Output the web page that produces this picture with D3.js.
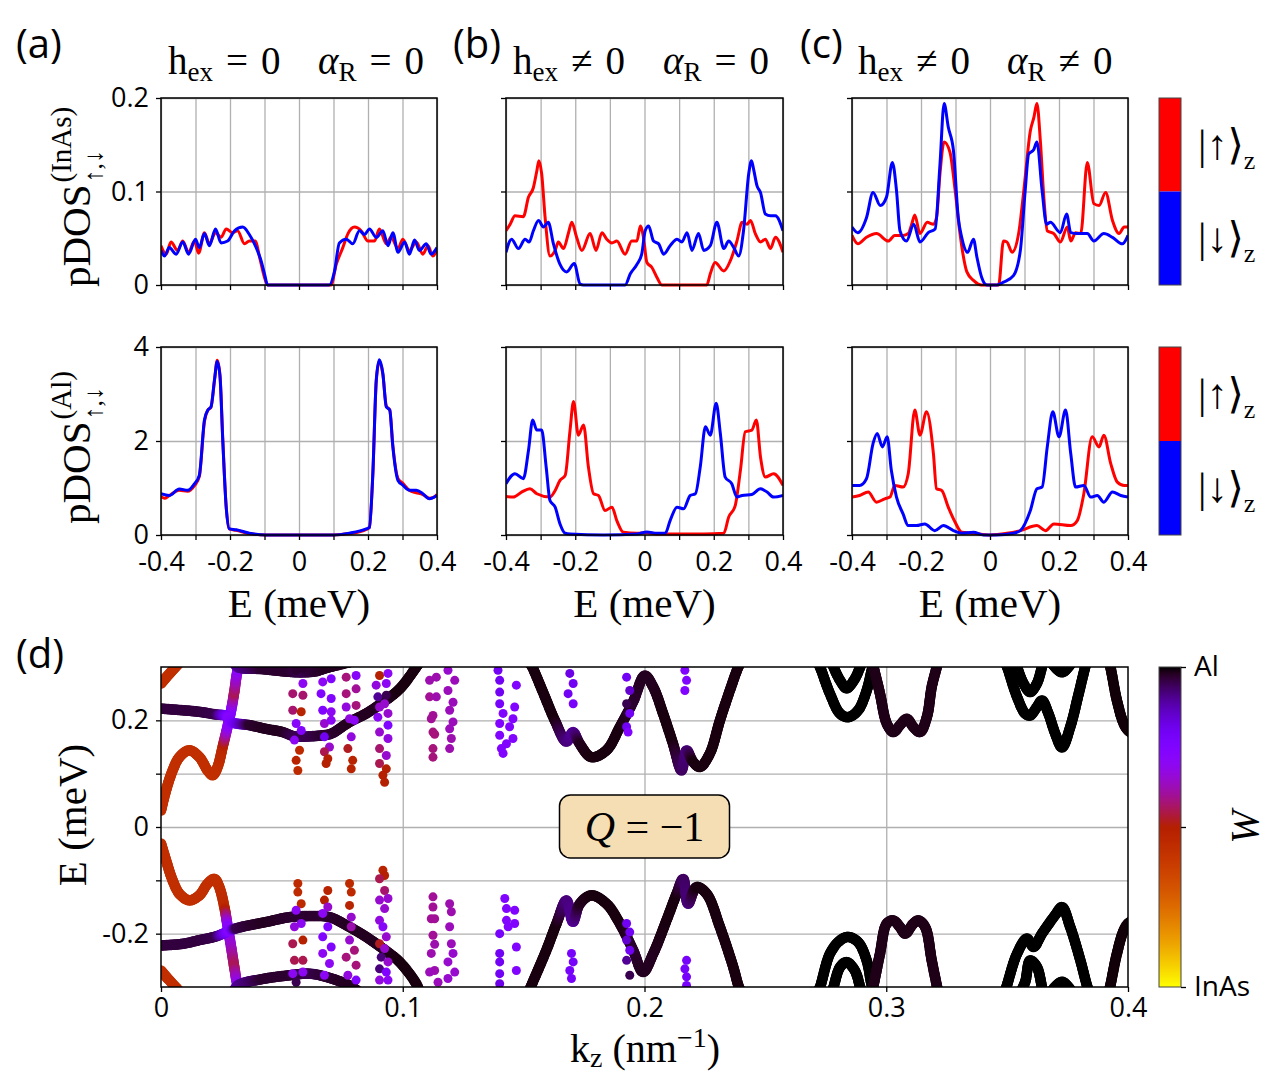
<!DOCTYPE html>
<html>
<head>
<meta charset="utf-8">
<script src="https://cdn.jsdelivr.net/npm/d3@7"></script>
<style>body{margin:0;background:#fff}</style>
</head>
<body>
<svg id="fig" width="1266" height="1075"></svg>
<script>
// ---------- data: pDOS (E in meV, value) ----------
const energyTicks = [-0.4,-0.3,-0.2,-0.1,0,0.1,0.2,0.3,0.4];

const inasUpA = [[-0.400,0.042],[-0.385,0.033],[-0.371,0.046],[-0.352,0.037],[-0.337,0.047],[-0.320,0.035],[-0.303,0.047],[-0.291,0.034],[-0.274,0.056],[-0.260,0.044],[-0.242,0.056],[-0.226,0.051],[-0.211,0.060],[-0.192,0.056],[-0.178,0.058],[-0.158,0.044],[-0.144,0.047],[-0.126,0.047],[-0.115,0.031],[-0.100,0.008],[-0.091,0],[0.093,0],[0.108,0.022],[0.127,0.040],[0.142,0.055],[0.161,0.062],[0.180,0.058],[0.200,0.047],[0.219,0.047],[0.233,0.060],[0.253,0.044],[0.267,0.051],[0.287,0.039],[0.301,0.049],[0.320,0.037],[0.340,0.046],[0.359,0.033],[0.374,0.042],[0.388,0.031],[0.400,0.037]];
const inasDnA = [[-0.400,0.037],[-0.390,0.031],[-0.376,0.040],[-0.356,0.033],[-0.337,0.046],[-0.320,0.033],[-0.300,0.049],[-0.289,0.040],[-0.274,0.055],[-0.260,0.042],[-0.242,0.060],[-0.226,0.045],[-0.207,0.047],[-0.187,0.058],[-0.163,0.062],[-0.144,0.054],[-0.124,0.040],[-0.110,0.026],[-0.100,0.012],[-0.091,0],[0.088,0],[0.103,0.015],[0.117,0.045],[0.137,0.049],[0.156,0.044],[0.175,0.058],[0.190,0.054],[0.204,0.060],[0.224,0.051],[0.243,0.058],[0.258,0.042],[0.272,0.056],[0.287,0.035],[0.306,0.046],[0.320,0.033],[0.335,0.048],[0.349,0.037],[0.369,0.044],[0.383,0.033],[0.400,0.040]];

const inasUpB = [[-0.400,0.058],[-0.388,0.065],[-0.374,0.074],[-0.350,0.073],[-0.335,0.094],[-0.321,0.104],[-0.311,0.122],[-0.305,0.133],[-0.297,0.119],[-0.287,0.072],[-0.273,0.031],[-0.258,0.037],[-0.249,0.046],[-0.234,0.039],[-0.220,0.055],[-0.210,0.067],[-0.196,0.051],[-0.181,0.037],[-0.157,0.055],[-0.140,0.037],[-0.123,0.056],[-0.109,0.049],[-0.094,0.045],[-0.080,0.047],[-0.056,0.033],[-0.037,0.047],[-0.022,0.047],[-0.012,0.063],[-0.003,0.051],[0.007,0.024],[0.021,0.019],[0.036,0.008],[0.050,0],[0.180,0],[0.190,0.012],[0.204,0.024],[0.229,0.015],[0.248,0.026],[0.267,0.047],[0.282,0.067],[0.296,0.065],[0.306,0.069],[0.320,0.055],[0.335,0.046],[0.349,0.049],[0.364,0.039],[0.378,0.051],[0.400,0.035]];
const inasDnB = [[-0.400,0.035],[-0.384,0.049],[-0.364,0.039],[-0.345,0.049],[-0.333,0.046],[-0.321,0.058],[-0.306,0.069],[-0.292,0.062],[-0.278,0.067],[-0.263,0.044],[-0.244,0.022],[-0.225,0.014],[-0.203,0.023],[-0.186,0.001],[-0.176,0],[-0.056,0],[-0.041,0.012],[-0.022,0.022],[-0.008,0.033],[0.002,0.058],[0.012,0.063],[0.026,0.047],[0.041,0.044],[0.055,0.033],[0.074,0.042],[0.094,0.049],[0.108,0.046],[0.123,0.056],[0.137,0.037],[0.156,0.055],[0.171,0.037],[0.190,0.042],[0.209,0.067],[0.229,0.039],[0.243,0.047],[0.258,0.040],[0.272,0.031],[0.286,0.058],[0.301,0.119],[0.309,0.133],[0.315,0.124],[0.325,0.106],[0.335,0.099],[0.349,0.076],[0.364,0.074],[0.378,0.074],[0.400,0.058]];

const inasUpC = [[-0.400,0.053],[-0.383,0.044],[-0.358,0.051],[-0.329,0.055],[-0.295,0.047],[-0.276,0.053],[-0.252,0.053],[-0.237,0.055],[-0.227,0.065],[-0.218,0.075],[-0.203,0.055],[-0.182,0.067],[-0.164,0.065],[-0.155,0.072],[-0.145,0.119],[-0.133,0.153],[-0.116,0.142],[-0.101,0.101],[-0.087,0.055],[-0.067,0.014],[-0.048,0.005],[-0.024,0],[0.025,0],[0.039,0.047],[0.049,0.046],[0.064,0.035],[0.083,0.055],[0.098,0.101],[0.117,0.165],[0.127,0.179],[0.136,0.194],[0.146,0.154],[0.156,0.094],[0.166,0.058],[0.185,0.055],[0.204,0.046],[0.224,0.062],[0.234,0.047],[0.248,0.056],[0.263,0.055],[0.282,0.131],[0.301,0.087],[0.316,0.085],[0.335,0.099],[0.355,0.069],[0.374,0.055],[0.389,0.062],[0.400,0.062]];
const inasDnC = [[-0.400,0.062],[-0.383,0.056],[-0.358,0.072],[-0.339,0.099],[-0.318,0.085],[-0.300,0.094],[-0.283,0.131],[-0.271,0.101],[-0.261,0.058],[-0.242,0.047],[-0.221,0.065],[-0.203,0.046],[-0.179,0.056],[-0.159,0.060],[-0.145,0.129],[-0.133,0.194],[-0.121,0.169],[-0.106,0.144],[-0.092,0.072],[-0.082,0.051],[-0.065,0.035],[-0.048,0.049],[-0.038,0.030],[-0.024,0.008],[-0.009,0],[0.020,0],[0.039,0.003],[0.068,0.010],[0.088,0.037],[0.102,0.101],[0.112,0.140],[0.127,0.145],[0.136,0.153],[0.151,0.101],[0.164,0.065],[0.175,0.067],[0.204,0.056],[0.222,0.076],[0.234,0.056],[0.253,0.055],[0.282,0.055],[0.301,0.047],[0.330,0.055],[0.355,0.051],[0.384,0.044],[0.400,0.053]];

const alUpA = [[-0.400,0.82],[-0.390,0.78],[-0.376,0.84],[-0.347,0.95],[-0.323,0.93],[-0.303,1.05],[-0.289,1.24],[-0.274,2.42],[-0.264,2.66],[-0.255,2.72],[-0.245,3.28],[-0.237,3.72],[-0.229,3.40],[-0.221,2.05],[-0.211,0.60],[-0.202,0.13],[-0.182,0.10],[-0.144,0.03],[-0.095,0],[0.098,0],[0.146,0.03],[0.195,0.12],[0.204,0.16],[0.214,1.28],[0.224,3.28],[0.233,3.70],[0.243,3.42],[0.253,2.74],[0.263,2.66],[0.272,1.90],[0.287,1.20],[0.301,1.10],[0.320,0.95],[0.340,0.90],[0.359,0.86],[0.378,0.78],[0.390,0.80],[0.400,0.86]];
const alDnA = [[-0.400,0.88],[-0.376,0.84],[-0.347,0.98],[-0.323,0.95],[-0.303,1.09],[-0.289,1.27],[-0.274,2.45],[-0.264,2.66],[-0.255,2.73],[-0.245,3.30],[-0.237,3.69],[-0.229,3.37],[-0.221,2.02],[-0.211,0.59],[-0.202,0.13],[-0.182,0.11],[-0.144,0.04],[-0.095,0],[0.098,0],[0.146,0.04],[0.195,0.13],[0.204,0.16],[0.214,1.31],[0.224,3.30],[0.233,3.73],[0.243,3.44],[0.253,2.73],[0.263,2.66],[0.272,1.88],[0.287,1.16],[0.301,1.06],[0.320,0.95],[0.340,0.95],[0.359,0.88],[0.378,0.77],[0.400,0.84]];

const alUpB = [[-0.400,0.820],[-0.379,0.806],[-0.355,0.913],[-0.331,0.984],[-0.311,0.877],[-0.273,0.806],[-0.258,0.948],[-0.244,1.162],[-0.229,1.269],[-0.215,2.232],[-0.205,2.838],[-0.191,2.125],[-0.176,2.339],[-0.162,1.447],[-0.147,0.877],[-0.133,0.841],[-0.114,0.521],[-0.094,0.592],[-0.080,0.307],[-0.061,0.057],[-0.022,0.036],[0.007,0.050],[0.036,0.021],[0.171,0.021],[0.229,0.036],[0.243,0.378],[0.262,0.627],[0.277,1.376],[0.291,2.196],[0.310,2.232],[0.323,2.446],[0.335,1.661],[0.349,1.233],[0.373,1.305],[0.400,1.055]];
const alDnB = [[-0.400,1.091],[-0.374,1.305],[-0.350,1.198],[-0.335,1.804],[-0.323,2.446],[-0.311,2.232],[-0.297,2.232],[-0.284,1.447],[-0.273,0.734],[-0.258,0.592],[-0.244,0.235],[-0.229,0.036],[-0.215,0.021],[-0.118,0],[-0.022,0.021],[0.007,0.064],[0.036,0.036],[0.060,0.036],[0.074,0.307],[0.094,0.592],[0.113,0.556],[0.132,0.841],[0.147,0.877],[0.161,1.447],[0.176,2.303],[0.190,2.125],[0.207,2.802],[0.219,2.160],[0.233,1.233],[0.252,1.091],[0.267,0.806],[0.282,0.841],[0.310,0.863],[0.335,0.984],[0.354,0.913],[0.373,0.806],[0.400,0.841]];

const alUpC = [[-0.400,0.806],[-0.378,0.841],[-0.353,0.913],[-0.329,0.699],[-0.305,0.770],[-0.290,0.806],[-0.276,1.055],[-0.252,1.020],[-0.237,1.305],[-0.218,2.659],[-0.203,2.125],[-0.184,2.624],[-0.164,1.733],[-0.155,0.984],[-0.140,0.948],[-0.121,0.592],[-0.101,0.271],[-0.082,0.057],[-0.048,0.036],[0,0],[0.049,0.036],[0.088,0.093],[0.136,0.200],[0.161,0.093],[0.185,0.235],[0.234,0.200],[0.253,0.307],[0.272,0.877],[0.296,2.089],[0.316,1.875],[0.330,2.125],[0.350,1.519],[0.369,1.126],[0.389,1.055],[0.400,1.055]];
const alDnC = [[-0.400,1.055],[-0.378,1.055],[-0.358,1.198],[-0.339,1.946],[-0.327,2.160],[-0.312,1.875],[-0.298,2.089],[-0.286,1.376],[-0.271,0.806],[-0.252,0.449],[-0.237,0.200],[-0.213,0.200],[-0.189,0.235],[-0.160,0.093],[-0.135,0.200],[-0.106,0.093],[-0.082,0.036],[-0.048,0.057],[-0.019,0],[0.019,0],[0.068,0.036],[0.088,0.093],[0.117,0.521],[0.136,0.984],[0.151,1.020],[0.166,1.875],[0.182,2.624],[0.200,2.089],[0.219,2.659],[0.234,1.733],[0.248,1.020],[0.272,1.055],[0.292,0.806],[0.311,0.841],[0.330,0.699],[0.355,0.913],[0.379,0.841],[0.400,0.806]];

const inasTicks = [0, 0.1, 0.2];
const alTicks = [0, 2, 4];

// ---------- data: band structure, [k_z, E, InAs weight] ----------
const bandsUpper = [
  [[0,0.269,.57],[0.003,0.285,.57],[0.006,0.3,.57],[0.008,0.31,.57]],
  [[0,0.031,.57],[0.0021,0.069,.57],[0.0048,0.106,.57],[0.0076,0.131,.57],[0.0117,0.144,.57],[0.0159,0.131,.57],[0.0193,0.106,.57],[0.0214,0.097,.57],[0.0234,0.1125,.57],[0.0255,0.15,.54],[0.0276,0.19,.3],[0.029,0.219,.25],[0.0303,0.253,.45],[0.0317,0.294,.3],[0.033,0.31,.3]],
  [[0,0.222,.04],[0.0089,0.219,.04],[0.0159,0.216,.04],[0.0228,0.211,.05],[0.0266,0.209,.2],[0.028,0.205,.28],[0.029,0.197,.25],[0.0366,0.191,.03],[0.0435,0.184,.02],[0.0504,0.178,.02],[0.0552,0.170,.05],[0.0614,0.170,.05],[0.0669,0.172,.03],[0.0704,0.175,.03],[0.078,0.197,.02],[0.0849,0.213,.02],[0.0918,0.234,.02],[0.0987,0.259,.01],[0.1056,0.300,.01],[0.107,0.31,.01]],
  [[0.030,0.31,.2],[0.0317,0.300,.1],[0.042,0.296,.03],[0.053,0.291,.03],[0.0586,0.290,.05],[0.064,0.292,.03],[0.0683,0.298,.02],[0.078,0.309,.02]],
  [[0.152,0.31,.01],[0.1532,0.303,.01],[0.158,0.253,.01],[0.1629,0.2,.01],[0.1677,0.16,.08],[0.1704,0.178,.1],[0.1732,0.156,.02],[0.178,0.131,.01],[0.1843,0.144,.01],[0.1898,0.1875,.01],[0.1953,0.235,.03],[0.2001,0.284,.02],[0.2036,0.2625,.02],[0.2077,0.2125,.01],[0.2118,0.156,.01],[0.2153,0.106,.06],[0.2174,0.144,.08],[0.2201,0.122,.01],[0.2229,0.1125,.01],[0.227,0.1375,.01],[0.2312,0.2,.01],[0.2353,0.256,.01],[0.2388,0.3,.01],[0.24,0.31,.01]],
  [[0.2715,0.31,0],[0.2726,0.3,0],[0.2767,0.25,0],[0.2809,0.2125,0],[0.2843,0.206,0],[0.2884,0.219,0],[0.2919,0.256,0],[0.294,0.294,0],[0.295,0.31,0]],
  [[0.2775,0.31,0],[0.2782,0.3,0],[0.2809,0.275,0],[0.2836,0.26,0],[0.287,0.278,0],[0.2892,0.3,0],[0.290,0.31,0]],
  [[0.2940,0.31,.015],[0.2947,0.3,.015],[0.2974,0.25,.015],[0.3002,0.194,.015],[0.3029,0.178,.015],[0.3057,0.191,.015],[0.3085,0.203,.015],[0.3112,0.1875,.015],[0.314,0.178,.015],[0.3168,0.206,.015],[0.3188,0.2625,.015],[0.3209,0.3,.015],[0.3215,0.31,.015]],
  [[0.349,0.31,0],[0.35,0.3,0],[0.3541,0.244,0],[0.3575,0.2125,0],[0.3595,0.209,0],[0.3623,0.225,0],[0.3644,0.2375,0],[0.3671,0.2125,0],[0.3699,0.175,0],[0.3727,0.149,0],[0.3761,0.1875,0],[0.3796,0.25,0],[0.3823,0.3,0],[0.383,0.31,0]],
  [[0.3535,0.31,0],[0.3541,0.3,0],[0.3568,0.269,0],[0.3595,0.253,0],[0.3623,0.269,0],[0.3644,0.3,0],[0.365,0.31,0]],
  [[0.368,0.31,0],[0.3727,0.29,0],[0.377,0.31,0]],
  [[0.392,0.31,.005],[0.3927,0.3,.005],[0.3954,0.2375,.005],[0.3982,0.194,.005],[0.4,0.181,.005],[0.402,0.175,.005]]
];
const bandsLower = [
  [[0,-0.269,.57],[0.003,-0.285,.57],[0.006,-0.3,.57],[0.008,-0.31,.57]],
  [[0,-0.031,.57],[0.0021,-0.0625,.57],[0.0048,-0.1,.57],[0.0076,-0.125,.57],[0.0117,-0.1375,.57],[0.0159,-0.128,.57],[0.0193,-0.106,.57],[0.0221,-0.097,.57],[0.0241,-0.1125,.57],[0.0262,-0.15,.55],[0.0276,-0.1875,.28],[0.029,-0.225,.35],[0.0303,-0.2625,.45],[0.0317,-0.297,.3],[0.033,-0.31,.3]],
  [[0,-0.222,.04],[0.0089,-0.219,.04],[0.0159,-0.212,.04],[0.0228,-0.205,.05],[0.0266,-0.198,.2],[0.0283,-0.194,.28],[0.031,-0.19,.05],[0.0366,-0.184,.03],[0.0435,-0.178,.02],[0.0531,-0.169,.03],[0.0614,-0.167,.03],[0.0697,-0.169,.03],[0.078,-0.1875,.02],[0.0849,-0.206,.02],[0.0918,-0.228,.02],[0.0987,-0.253,.01],[0.1056,-0.294,.01],[0.107,-0.31,.01]],
  [[0.030,-0.31,.2],[0.0317,-0.297,.1],[0.042,-0.285,.03],[0.0531,-0.278,.03],[0.0614,-0.275,.05],[0.0683,-0.281,.03],[0.078,-0.297,.02],[0.082,-0.31,.02]],
  [[0.152,-0.31,.01],[0.1532,-0.297,.01],[0.1594,-0.231,.01],[0.1636,-0.181,.01],[0.1677,-0.1375,.08],[0.1704,-0.178,.1],[0.1732,-0.144,.02],[0.178,-0.128,.01],[0.1843,-0.144,.01],[0.1898,-0.181,.01],[0.1953,-0.231,.03],[0.1994,-0.272,.02],[0.2036,-0.2375,.02],[0.2091,-0.175,.01],[0.2133,-0.125,.01],[0.216,-0.097,.06],[0.218,-0.144,.08],[0.2215,-0.1125,.01],[0.2257,-0.125,.01],[0.2312,-0.1875,.01],[0.2367,-0.2625,.01],[0.2388,-0.297,.01],[0.24,-0.31,.01]],
  [[0.2715,-0.31,0],[0.2726,-0.3,0],[0.2767,-0.2375,0],[0.2809,-0.2125,0],[0.2843,-0.206,0],[0.2884,-0.216,0],[0.2919,-0.25,0],[0.294,-0.297,0],[0.295,-0.31,0]],
  [[0.2775,-0.31,0],[0.2782,-0.3,0],[0.2809,-0.2625,0],[0.2836,-0.253,0],[0.287,-0.269,0],[0.2892,-0.3,0],[0.290,-0.31,0]],
  [[0.2940,-0.31,.015],[0.2947,-0.297,.015],[0.2974,-0.2375,.015],[0.3002,-0.181,.015],[0.3029,-0.175,.015],[0.3057,-0.1875,.015],[0.3078,-0.2,.015],[0.3112,-0.181,.015],[0.3133,-0.175,.015],[0.3161,-0.1875,.015],[0.3188,-0.25,.015],[0.3209,-0.297,.015],[0.3215,-0.31,.015]],
  [[0.349,-0.31,0],[0.3499,-0.297,0],[0.3541,-0.2375,0],[0.3582,-0.209,0],[0.3609,-0.225,0],[0.3644,-0.2,0],[0.3699,-0.165,0],[0.3727,-0.15,0],[0.3761,-0.1875,0],[0.3803,-0.25,0],[0.383,-0.297,0],[0.384,-0.31,0]],
  [[0.3555,-0.31,0],[0.3575,-0.29,0],[0.3595,-0.25,0],[0.3623,-0.262,0],[0.3644,-0.3,0],[0.365,-0.31,0]],
  [[0.368,-0.31,0],[0.3727,-0.29,0],[0.377,-0.31,0]],
  [[0.392,-0.31,.005],[0.3927,-0.297,.005],[0.3954,-0.2375,.005],[0.3982,-0.194,.005],[0.4,-0.181,.005],[0.402,-0.175,.005]]
];

const dotsUpper = [
  [0.0559,0.294,0.03],[0.0587,0.297,0.03],[0.0587,0.269,0.30],[0.0545,0.250,0.43],[0.0587,0.247,0.43],[0.0545,0.219,0.43],[0.0580,0.216,0.52],[0.0559,0.194,0.28],[0.0580,0.181,0.26],[0.0552,0.163,0.30],[0.0573,0.144,0.55],[0.0559,0.125,0.52],[0.0566,0.106,0.55],
  [0.0669,0.272,0.30],[0.0704,0.278,0.25],[0.0662,0.250,0.25],[0.0704,0.241,0.25],[0.0669,0.219,0.25],[0.0704,0.216,0.30],[0.0676,0.194,0.35],[0.0704,0.200,0.30],[0.0676,0.169,0.20],[0.0697,0.150,0.35],[0.0676,0.141,0.45],[0.0690,0.128,0.50],[0.0683,0.119,0.50],
  [0.0766,0.281,0.42],[0.0807,0.284,0.28],[0.0766,0.250,0.42],[0.0807,0.259,0.40],[0.0766,0.225,0.33],[0.0807,0.228,0.42],[0.0780,0.203,0.33],[0.0800,0.200,0.30],[0.0787,0.169,0.33],[0.0773,0.147,0.48],[0.0793,0.125,0.52],[0.0787,0.109,0.52],
  [0.0904,0.284,0.50],[0.0939,0.288,0.30],[0.0890,0.266,0.33],[0.0932,0.269,0.30],[0.0897,0.244,0.10],[0.0932,0.247,0.05],[0.0904,0.225,0.35],[0.0925,0.231,0.35],[0.0897,0.206,0.30],[0.0939,0.213,0.35],[0.0939,0.191,0.25],[0.0904,0.178,0.35],[0.0939,0.166,0.33],[0.0904,0.147,0.43],[0.0932,0.134,0.35],[0.0904,0.119,0.45],[0.0932,0.109,0.50],[0.0918,0.097,0.50],[0.0925,0.084,0.50],
  [0.1111,0.275,0.38],[0.1139,0.281,0.38],[0.1111,0.244,0.40],[0.1139,0.244,0.38],[0.1125,0.209,0.40],[0.1118,0.203,0.40],[0.1125,0.178,0.42],[0.1132,0.174,0.42],[0.1125,0.147,0.42],[0.1125,0.131,0.42],
  [0.1187,0.294,0.35],[0.1215,0.275,0.37],[0.1187,0.256,0.37],[0.1208,0.234,0.37],[0.1194,0.219,0.37],[0.1208,0.197,0.37],[0.1194,0.184,0.37],[0.1201,0.166,0.38],[0.1194,0.147,0.38],
  [0.1394,0.294,0.20],[0.1401,0.275,0.20],[0.1470,0.266,0.25],[0.1401,0.253,0.20],[0.1401,0.231,0.22],[0.1463,0.225,0.25],[0.1415,0.213,0.25],[0.1401,0.194,0.25],[0.1456,0.203,0.25],[0.1442,0.188,0.25],[0.1401,0.172,0.25],[0.1456,0.166,0.25],[0.1429,0.156,0.25],[0.1415,0.138,0.25],[0.1408,0.147,0.25],
  [0.1691,0.288,0.18],[0.1705,0.269,0.20],[0.1684,0.250,0.20],[0.1705,0.231,0.22],
  [0.1926,0.281,0.20],[0.1939,0.256,0.15],[0.1926,0.231,0.05],[0.1939,0.213,0.20],[0.1926,0.188,0.20],[0.1932,0.178,0.25],
  [0.2167,0.294,0.25],[0.2174,0.275,0.25],[0.2167,0.256,0.25]
];
const dotsLower = [
  [0.0566,-0.106,0.55],[0.0566,-0.122,0.55],[0.0580,-0.144,0.55],[0.0559,-0.156,0.30],[0.0580,-0.181,0.30],[0.0552,-0.187,0.33],[0.0545,-0.219,0.45],[0.0587,-0.212,0.50],[0.0552,-0.250,0.45],[0.0587,-0.250,0.45],[0.0545,-0.275,0.30],[0.0587,-0.272,0.30],[0.0559,-0.291,0.05],
  [0.0690,-0.119,0.52],[0.0676,-0.137,0.50],[0.0690,-0.150,0.35],[0.0669,-0.162,0.30],[0.0690,-0.187,0.25],[0.0669,-0.206,0.25],[0.0704,-0.225,0.25],[0.0669,-0.237,0.30],[0.0697,-0.256,0.30],[0.0676,-0.278,0.30],
  [0.0780,-0.106,0.55],[0.0787,-0.122,0.55],[0.0780,-0.147,0.52],[0.0787,-0.169,0.35],[0.0787,-0.187,0.38],[0.0780,-0.212,0.35],[0.0800,-0.231,0.42],[0.0766,-0.244,0.42],[0.0807,-0.259,0.42],[0.0773,-0.278,0.33],[0.0807,-0.287,0.25],
  [0.0918,-0.081,0.52],[0.0925,-0.091,0.50],[0.0904,-0.097,0.45],[0.0925,-0.119,0.43],[0.0904,-0.137,0.35],[0.0939,-0.134,0.35],[0.0925,-0.153,0.35],[0.0904,-0.175,0.33],[0.0918,-0.187,0.28],[0.0932,-0.206,0.35],[0.0904,-0.219,0.48],[0.0925,-0.228,0.35],[0.0911,-0.244,0.08],[0.0939,-0.253,0.35],[0.0904,-0.266,0.08],[0.0932,-0.272,0.25],[0.0904,-0.287,0.33],[0.0939,-0.287,0.30],
  [0.1125,-0.131,0.40],[0.1125,-0.150,0.40],[0.1118,-0.172,0.40],[0.1132,-0.172,0.40],[0.1125,-0.203,0.40],[0.1132,-0.220,0.38],[0.1118,-0.237,0.38],[0.1132,-0.269,0.38],[0.1111,-0.272,0.37],[0.1146,-0.291,0.37],
  [0.1194,-0.144,0.38],[0.1201,-0.159,0.38],[0.1194,-0.187,0.37],[0.1201,-0.219,0.37],[0.1208,-0.237,0.35],[0.1187,-0.253,0.35],[0.1215,-0.272,0.35],[0.1187,-0.284,0.35],
  [0.1422,-0.134,0.25],[0.1429,-0.153,0.25],[0.1463,-0.156,0.25],[0.1429,-0.175,0.25],[0.1463,-0.181,0.25],[0.1401,-0.200,0.22],[0.1436,-0.187,0.25],[0.1470,-0.225,0.25],[0.1401,-0.237,0.20],[0.1401,-0.253,0.20],[0.1401,-0.275,0.20],[0.1470,-0.269,0.25],[0.1401,-0.294,0.18],
  [0.1698,-0.237,0.22],[0.1705,-0.253,0.22],[0.1691,-0.269,0.22],[0.1698,-0.284,0.22],
  [0.1926,-0.181,0.20],[0.1939,-0.197,0.20],[0.1926,-0.212,0.15],[0.1939,-0.231,0.20],[0.1926,-0.250,0.10],[0.1939,-0.278,0.05],
  [0.2174,-0.250,0.22],[0.2167,-0.266,0.22],[0.2174,-0.281,0.22],[0.2174,-0.297,0.22]
];
const kTicks = [0, 0.1, 0.2, 0.3, 0.4];
const eTicksD = [-0.2, -0.1, 0, 0.1, 0.2];

// ---------- drawing ----------
const svg = d3.select('#fig');
const SANS = '"Open Sans", "DejaVu Sans", sans-serif';
const SERIF = '"Liberation Serif", "DejaVu Serif", serif';
const GRID = '#b0b0b0';

// matplotlib "gnuplot" colormap
function gnuplot(t) {
  const r = Math.sqrt(t), g = t * t * t, b = Math.max(0, Math.sin(2 * Math.PI * t));
  return d3.rgb(255 * r, 255 * g, 255 * b).formatHex();
}
const fmt = d => Math.abs(d) < 1e-9 ? '0' : (d < 0 ? '-' : '') + Math.abs(d).toFixed(1);

const panelX = [[161, 437], [506, 783], [852, 1128]];
const rowY = [[98, 285], [347, 535]];
const defs = svg.append('defs');

function styleAxis(s) {
  s.select('.domain').remove();
  s.selectAll('.tick line').attr('stroke', '#000').attr('stroke-width', 1.3);
  s.selectAll('.tick text').attr('font-family', SANS).attr('font-size', 27).attr('fill', '#000');
}
function gridLines(s) {
  s.select('.domain').remove();
  s.selectAll('.tick text').remove();
  s.selectAll('.tick line').attr('stroke', GRID).attr('stroke-width', 1.3);
}

const rows = [
  { max: 0.2, ticks: inasTicks, pairs: [[inasUpA, inasDnA], [inasUpB, inasDnB], [inasUpC, inasDnC]], tf: d => d === 0 ? '0' : d.toFixed(1) },
  { max: 4, ticks: alTicks, pairs: [[alUpA, alDnA], [alUpB, alDnB], [alUpC, alDnC]], tf: d => String(d) }
];

rows.forEach((row, ri) => {
  row.pairs.forEach((pair, ci) => {
    const [x0, x1] = panelX[ci], [y0, y1] = rowY[ri];
    const x = d3.scaleLinear().domain([-0.4, 0.4]).range([x0, x1]);
    const y = d3.scaleLinear().domain([0, row.max]).range([y1, y0]);
    const g = svg.append('g');
    const cid = `clip${ri}${ci}`;
    defs.append('clipPath').attr('id', cid).append('rect').attr('x', x0).attr('y', y0 - 2).attr('width', x1 - x0).attr('height', y1 - y0 + 4);

    g.append('g').attr('transform', `translate(0,${y1})`)
      .call(d3.axisBottom(x).tickValues(energyTicks).tickSize(-(y1 - y0))).call(gridLines);
    g.append('g').attr('transform', `translate(${x0},0)`)
      .call(d3.axisLeft(y).tickValues(row.ticks).tickSize(-(x1 - x0))).call(gridLines);

    const line = d3.line().x(d => x(d[0])).y(d => y(d[1])).curve(d3.curveMonotoneX);
    const cg = g.append('g').attr('clip-path', `url(#${cid})`);
    cg.append('path').datum(pair[0]).attr('d', line).attr('fill', 'none').attr('stroke', '#ff0000').attr('stroke-width', 3).attr('stroke-linejoin', 'round');
    cg.append('path').datum(pair[1]).attr('d', line).attr('fill', 'none').attr('stroke', '#0000ff').attr('stroke-width', 3).attr('stroke-linejoin', 'round');

    g.append('rect').attr('x', x0).attr('y', y0).attr('width', x1 - x0).attr('height', y1 - y0)
      .attr('fill', 'none').attr('stroke', '#000').attr('stroke-width', 1.5);

    g.append('g').attr('transform', `translate(0,${y1})`)
      .call(d3.axisBottom(x).tickValues(energyTicks).tickSize(5).tickPadding(12)
        .tickFormat(d => ri === 1 && Math.round(d * 10) % 2 === 0 ? fmt(d) : ''))
      .call(styleAxis);
    g.append('g').attr('transform', `translate(${x0},0)`)
      .call(d3.axisLeft(y).tickValues(row.ticks).tickSize(5).tickPadding(7)
        .tickFormat(d => ci === 0 ? row.tf(d) : ''))
      .call(styleAxis);

    if (ri === 1) {
      svg.append('text').attr('x', (x0 + x1) / 2).attr('y', 617).attr('text-anchor', 'middle')
        .attr('font-family', SERIF).attr('font-size', 41).text('E (meV)');
    }
  });
});

// spin colour bars
rowY.forEach(([y0, y1]) => {
  const ym = (y0 + y1) / 2;
  svg.append('rect').attr('x', 1159).attr('y', y0).attr('width', 22).attr('height', ym - y0).attr('fill', '#ff0000');
  svg.append('rect').attr('x', 1159).attr('y', ym).attr('width', 22).attr('height', y1 - ym).attr('fill', '#0000ff');
  svg.append('rect').attr('x', 1159).attr('y', y0).attr('width', 22).attr('height', y1 - y0).attr('fill', 'none').attr('stroke', '#444').attr('stroke-width', 1);
  [['\u2191', (y0 + ym) / 2], ['\u2193', (ym + y1) / 2]].forEach(([arrow, yc]) => {
    const t = svg.append('text').attr('x', 1198).attr('y', yc + 14).attr('font-family', SERIF).attr('font-size', 42);
    t.append('tspan').text('|' + arrow + '\u27E9');
    t.append('tspan').attr('dy', 10).attr('font-size', 26).text('z');
  });
});

// panel letters and titles
[['(a)', 16, 58], ['(b)', 453, 58], ['(c)', 800, 58], ['(d)', 16, 668]].forEach(([s, x, y]) => {
  svg.append('text').attr('x', x).attr('y', y).attr('font-family', SANS).attr('font-size', 40).text(s);
});
function title(xh, xa, hrel, arel) {
  const t1 = svg.append('text').attr('x', xh).attr('y', 74).attr('font-family', SERIF).attr('font-size', 39);
  t1.append('tspan').text('h');
  t1.append('tspan').attr('dy', 7).attr('font-size', 27).text('ex');
  t1.append('tspan').attr('dy', -7).attr('dx', 13).text(hrel);
  t1.append('tspan').attr('dx', 13).text('0');
  const t2 = svg.append('text').attr('x', xa).attr('y', 74).attr('font-family', SERIF).attr('font-size', 39);
  t2.append('tspan').attr('font-style', 'italic').text('\u03B1');
  t2.append('tspan').attr('dy', 7).attr('font-size', 27).text('R');
  t2.append('tspan').attr('dy', -7).attr('dx', 13).text(arel);
  t2.append('tspan').attr('dx', 13).text('0');
}
title(168, 318, '=', '=');
title(513, 663, '\u2260', '=');
title(858, 1007, '\u2260', '\u2260');

// rotated pDOS labels
function pdosLabel(xb, ybottom, sup) {
  const g = svg.append('g').attr('transform', `translate(${xb},${ybottom}) rotate(-90)`);
  const main = g.append('text').attr('x', 0).attr('y', 0).attr('font-family', SERIF).attr('font-size', 41).text('pDOS');
  const w = main.node().getComputedTextLength();
  g.append('text').attr('x', w + 2).attr('y', -19).attr('font-family', SERIF).attr('font-size', 29).text(sup);
  g.append('text').attr('x', w + 2).attr('y', 12).attr('font-family', SERIF).attr('font-size', 26).text('\u2191,\u2193');
}
pdosLabel(90, 287, '(InAs)');
pdosLabel(90, 524, '(Al)');

// ---------- panel (d): band structure ----------
const kx = d3.scaleLinear().domain([0, 0.4]).range([161, 1128]);
const ey = d3.scaleLinear().domain([-0.3, 0.3]).range([987, 667]);
const dg = svg.append('g');
defs.append('clipPath').attr('id', 'clipD').append('rect').attr('x', 161).attr('y', 667).attr('width', 967).attr('height', 320);

dg.append('g').attr('transform', 'translate(0,987)').call(d3.axisBottom(kx).tickValues([0.1, 0.2, 0.3]).tickSize(-320)).call(gridLines);
dg.append('g').attr('transform', 'translate(161,0)').call(d3.axisLeft(ey).tickValues(eTicksD).tickSize(-967)).call(gridLines);

const layer = dg.append('g').attr('clip-path', 'url(#clipD)');
const bandLine = d3.line().x(d => kx(d[0])).y(d => ey(d[1])).curve(d3.curveCatmullRom.alpha(0.5));
bandsUpper.concat(bandsLower).forEach(band => {
  const tmp = layer.append('path').attr('d', bandLine(band)).attr('fill', 'none');
  const node = tmp.node();
  const L = node.getTotalLength();
  const px = band.map(d => [kx(d[0]), ey(d[1])]);
  const cum = [0];
  for (let i = 1; i < px.length; i++) cum.push(cum[i - 1] + Math.hypot(px[i][0] - px[i - 1][0], px[i][1] - px[i - 1][1]));
  const tot = cum[cum.length - 1];
  const samples = d3.range(0, L, 1.3).concat([L]).map(s => {
    const p = node.getPointAtLength(s);
    const f = s / L * tot;
    let i = Math.max(0, Math.min(d3.bisectRight(cum, f) - 1, band.length - 2));
    const u = Math.max(0, Math.min(1, (f - cum[i]) / ((cum[i + 1] - cum[i]) || 1)));
    return { x: p.x, y: p.y, w: band[i][2] * (1 - u) + band[i + 1][2] * u };
  });
  tmp.remove();
  layer.append('g').selectAll('circle').data(samples).join('circle')
    .attr('cx', d => d.x).attr('cy', d => d.y).attr('r', 5.3).attr('fill', d => gnuplot(d.w));
});
layer.append('g').selectAll('circle').data(dotsUpper.concat(dotsLower)).join('circle')
  .attr('cx', d => kx(d[0])).attr('cy', d => ey(d[1])).attr('r', 4.5).attr('fill', d => gnuplot(d[2]));

dg.append('rect').attr('x', 161).attr('y', 667).attr('width', 967).attr('height', 320)
  .attr('fill', 'none').attr('stroke', '#000').attr('stroke-width', 1.5);
dg.append('g').attr('transform', 'translate(0,987)')
  .call(d3.axisBottom(kx).tickValues(kTicks).tickSize(5).tickPadding(6).tickFormat(fmt)).call(styleAxis);
dg.append('g').attr('transform', 'translate(161,0)')
  .call(d3.axisLeft(ey).tickValues(eTicksD).tickSize(5).tickPadding(7)
    .tickFormat(d => Math.round(d * 10) % 2 === 0 ? fmt(d) : '')).call(styleAxis);

// Q box
const qb = dg.append('g').attr('transform', `translate(${kx(0.2)},${ey(0)})`);
qb.append('rect').attr('x', -85).attr('y', -32).attr('width', 170).attr('height', 63).attr('rx', 11)
  .attr('fill', '#f5deb3').attr('stroke', '#000').attr('stroke-width', 1.5);
const qt = qb.append('text').attr('x', 0).attr('y', 14).attr('text-anchor', 'middle').attr('font-family', SERIF).attr('font-size', 42);
qt.append('tspan').attr('font-style', 'italic').text('Q');
qt.append('tspan').text(' = \u22121');

// axis labels for (d)
const xl = svg.append('text').attr('x', 645).attr('y', 1062).attr('text-anchor', 'middle').attr('font-family', SERIF).attr('font-size', 40);
xl.append('tspan').text('k');
xl.append('tspan').attr('dy', 5).attr('font-size', 28).text('z');
xl.append('tspan').attr('dy', -5).text(' (nm');
xl.append('tspan').attr('dy', -15).attr('font-size', 28).text('\u22121');
xl.append('tspan').attr('dy', 15).text(')');
svg.append('text').attr('transform', 'translate(86,815) rotate(-90)').attr('text-anchor', 'middle')
  .attr('font-family', SERIF).attr('font-size', 41).text('E (meV)');

// W colour bar
const wScale = d3.scaleLinear().domain([0, 1]).range([667, 987]);
const grad = defs.append('linearGradient').attr('id', 'gnu').attr('x1', 0).attr('y1', 0).attr('x2', 0).attr('y2', 1);
d3.range(0, 1.0001, 0.02).forEach(t => grad.append('stop').attr('offset', t).attr('stop-color', gnuplot(t)));
svg.append('rect').attr('x', 1159).attr('y', 667).attr('width', 22).attr('height', 320).attr('fill', 'url(#gnu)')
  .attr('stroke', '#444').attr('stroke-width', 1);
svg.append('g').attr('transform', 'translate(1181,0)')
  .call(d3.axisRight(wScale).tickValues([0, 0.5, 1]).tickSize(5).tickPadding(8).tickFormat(d => d === 0 ? 'Al' : d === 1 ? 'InAs' : ''))
  .call(styleAxis).call(s => s.selectAll('.tick text').attr('font-size', 28));
svg.append('text').attr('transform', 'translate(1258,827) rotate(-90)').attr('text-anchor', 'middle')
  .attr('font-family', SERIF).attr('font-style', 'italic').attr('font-size', 40).text('W');
</script>
</body>
</html>
